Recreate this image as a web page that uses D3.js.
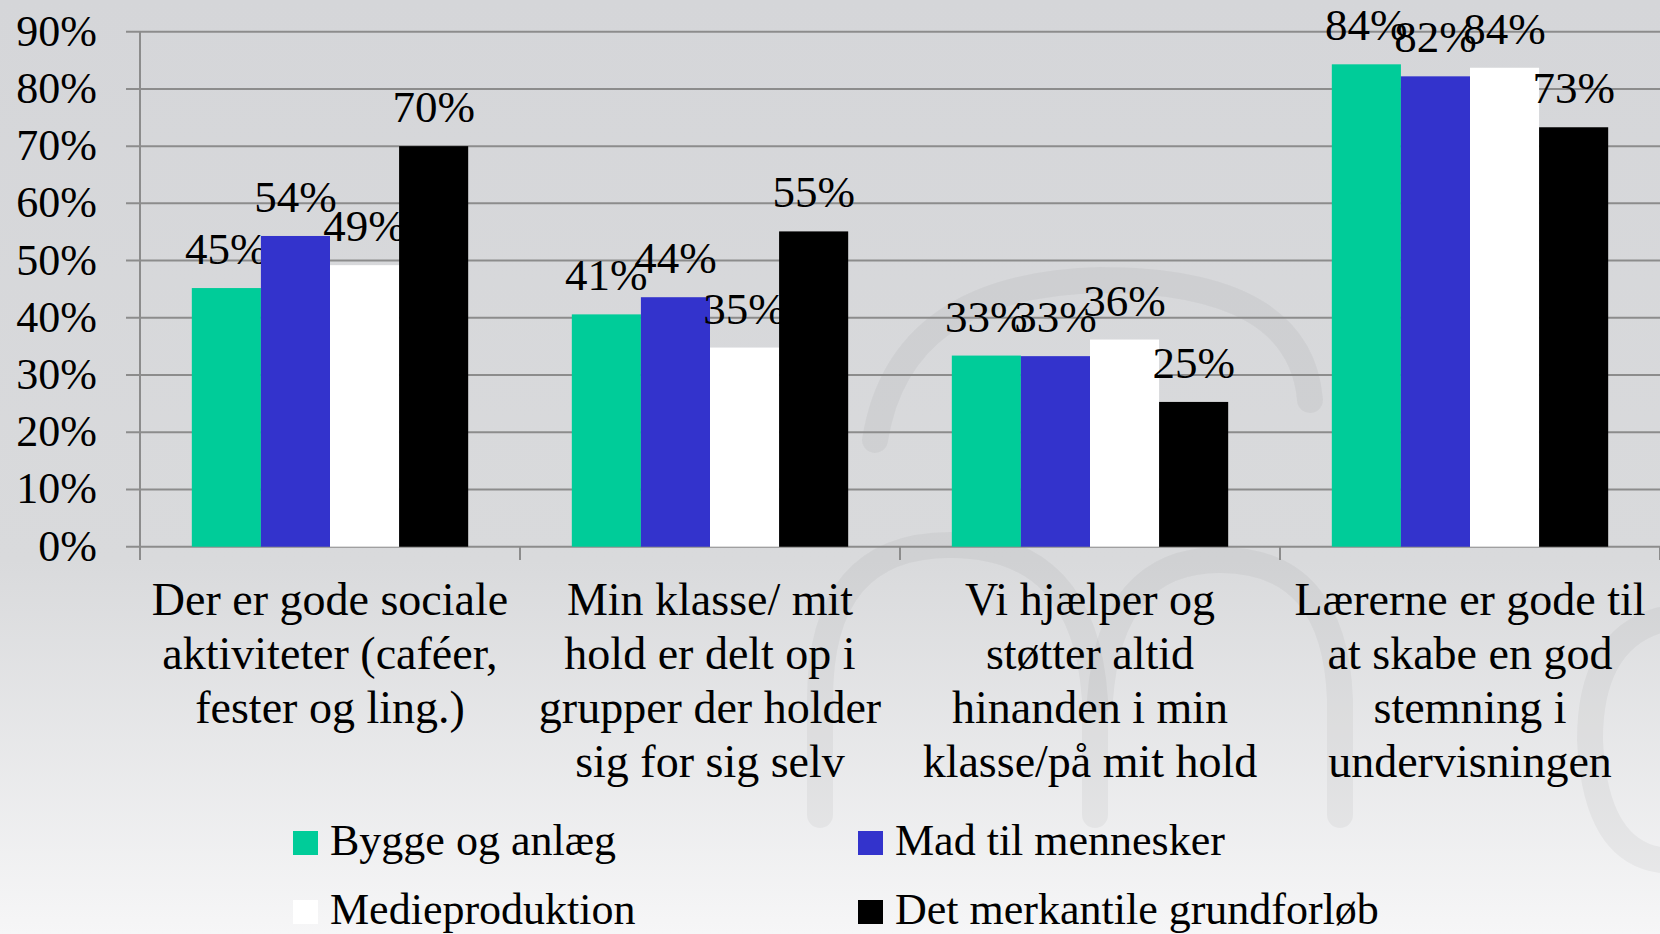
<!DOCTYPE html>
<html>
<head>
<meta charset="utf-8">
<script src="https://cdn.jsdelivr.net/npm/d3@7"></script>
<style>
  html, body { margin: 0; padding: 0; overflow: hidden; }
  svg { display: block; font-family: "Liberation Serif", "DejaVu Serif", serif; }
</style>
</head>
<body>
<svg id="chart"></svg>
<script>
// data
const categories = [
  ["Der er gode sociale", "aktiviteter (caféer,", "fester og ling.)"],
  ["Min klasse/ mit", "hold er delt op i", "grupper der holder", "sig for sig selv"],
  ["Vi hjælper og", "støtter altid", "hinanden i min", "klasse/på mit hold"],
  ["Lærerne er gode til", "at skabe en god", "stemning i", "undervisningen"]
];
const seriesNames = ["Bygge og anlæg", "Mad til mennesker", "Medieproduktion", "Det merkantile grundforløb"];
const seriesColors = ["#00cc99", "#3333cc", "#ffffff", "#000000"];
const byggeValues = [45.2, 40.6, 33.4, 84.3];
const madValues = [54.3, 43.6, 33.3, 82.2];
const medieValues = [49.2, 34.8, 36.2, 83.7];
const merkantilValues = [70.0, 55.1, 25.3, 73.3];
const yTicks = [0, 10, 20, 30, 40, 50, 60, 70, 80, 90];

const allValues = [byggeValues, madValues, medieValues, merkantilValues];

const width = 1660, height = 934;
const svg = d3.select("#chart")
  .attr("width", width)
  .attr("height", height)
  .attr("viewBox", "0 0 " + width + " " + height);

// background
const defs = svg.append("defs");
const grad = defs.append("linearGradient")
  .attr("id", "bg").attr("x1", 0).attr("y1", 0).attr("x2", 0).attr("y2", 1);
grad.append("stop").attr("offset", "0%").attr("stop-color", "#d5d6d9");
grad.append("stop").attr("offset", "60%").attr("stop-color", "#d9dadc");
grad.append("stop").attr("offset", "100%").attr("stop-color", "#f6f6f7");
svg.append("rect").attr("width", width).attr("height", height).attr("fill", "url(#bg)");

// faint watermark strokes
const mark = svg.append("g")
  .style("fill", "none")
  .style("stroke", "#000")
  .style("stroke-opacity", 0.04)
  .style("stroke-width", 26)
  .style("stroke-linecap", "round");
mark.append("path").attr("d", "M 820 815 L 820 700 Q 820 545 950 545 Q 1085 545 1095 700 L 1095 815");
mark.append("path").attr("d", "M 1100 700 Q 1110 560 1220 560 Q 1335 560 1340 700 L 1340 815");
mark.append("path").attr("d", "M 875 440 Q 900 285 1100 280 Q 1300 280 1310 400");
mark.append("path").attr("d", "M 1660 620 Q 1590 640 1590 740 Q 1595 850 1660 860");

// scales
const y = d3.scaleLinear().domain([0, 90]).range([546.7, 31.7]);
const x0 = d3.scaleBand().domain(d3.range(categories.length)).range([140, 1660]).padding(0);
const gap = x0.bandwidth() * 1.5 / 11;
const x1 = d3.scaleBand().domain(d3.range(seriesNames.length))
  .range([gap, x0.bandwidth() - gap]).padding(0);

// gridlines
svg.append("g")
  .selectAll("line")
  .data(yTicks)
  .join("line")
  .attr("x1", 126)
  .attr("x2", width)
  .attr("y1", d => y(d))
  .attr("y2", d => y(d))
  .style("stroke", "#8c8c8c")
  .style("stroke-width", 2);

// y axis line + category ticks
svg.append("line")
  .attr("x1", 140).attr("x2", 140)
  .attr("y1", y(90)).attr("y2", 560)
  .style("stroke", "#8c8c8c").style("stroke-width", 2);
svg.append("g")
  .selectAll("line")
  .data(d3.range(1, categories.length + 1))
  .join("line")
  .attr("x1", d => 140 + d * x0.bandwidth())
  .attr("x2", d => 140 + d * x0.bandwidth())
  .attr("y1", y(0)).attr("y2", 560)
  .style("stroke", "#8c8c8c").style("stroke-width", 2);

// y tick labels
svg.append("g")
  .selectAll("text")
  .data(yTicks)
  .join("text")
  .attr("x", 97)
  .attr("y", d => y(d) + 14)
  .attr("text-anchor", "end")
  .style("font-size", "44px")
  .style("fill", "#000")
  .text(d => d + "%");

// bars and labels, one series after the other (later bars cover earlier labels)
const series = svg.append("g")
  .selectAll("g")
  .data(allValues.map((vals, s) => ({s: s, vals: vals})))
  .join("g");

series.selectAll("rect")
  .data(d => d.vals.map((v, i) => ({s: d.s, i: i, v: v})))
  .join("rect")
  .attr("x", d => x0(d.i) + x1(d.s))
  .attr("width", x1.bandwidth())
  .attr("y", d => y(d.v))
  .attr("height", d => y(0) - y(d.v))
  .style("fill", d => seriesColors[d.s]);

series.selectAll("text")
  .data(d => d.vals.map((v, i) => ({s: d.s, i: i, v: v})))
  .join("text")
  .attr("x", d => x0(d.i) + x1(d.s) + x1.bandwidth() / 2)
  .attr("y", d => y(d.v) - 24)
  .attr("text-anchor", "middle")
  .style("font-size", "45px")
  .style("fill", "#000")
  .text(d => Math.round(d.v) + "%");

// category labels
const catText = svg.append("g")
  .selectAll("text")
  .data(categories)
  .join("text")
  .attr("text-anchor", "middle")
  .style("font-size", "46px")
  .style("fill", "#000");
catText.selectAll("tspan")
  .data((lines, i) => lines.map(l => ({l: l, i: i})))
  .join("tspan")
  .attr("x", d => x0(d.i) + x0.bandwidth() / 2)
  .attr("y", (d, k) => 615 + k * 54)
  .text(d => d.l);

// legend
const legendX = [293, 858];
const legendY = [855, 924];
const legend = svg.append("g")
  .selectAll("g")
  .data(seriesNames)
  .join("g")
  .attr("transform", (d, i) => "translate(" + legendX[i % 2] + "," + legendY[Math.floor(i / 2)] + ")");
legend.append("rect")
  .attr("x", 0).attr("y", -24)
  .attr("width", 25).attr("height", 24)
  .style("fill", (d, i) => seriesColors[i]);
legend.append("text")
  .attr("x", 37).attr("y", 0)
  .style("font-size", "44px")
  .style("fill", "#000")
  .text(d => d);
</script>
</body>
</html>
